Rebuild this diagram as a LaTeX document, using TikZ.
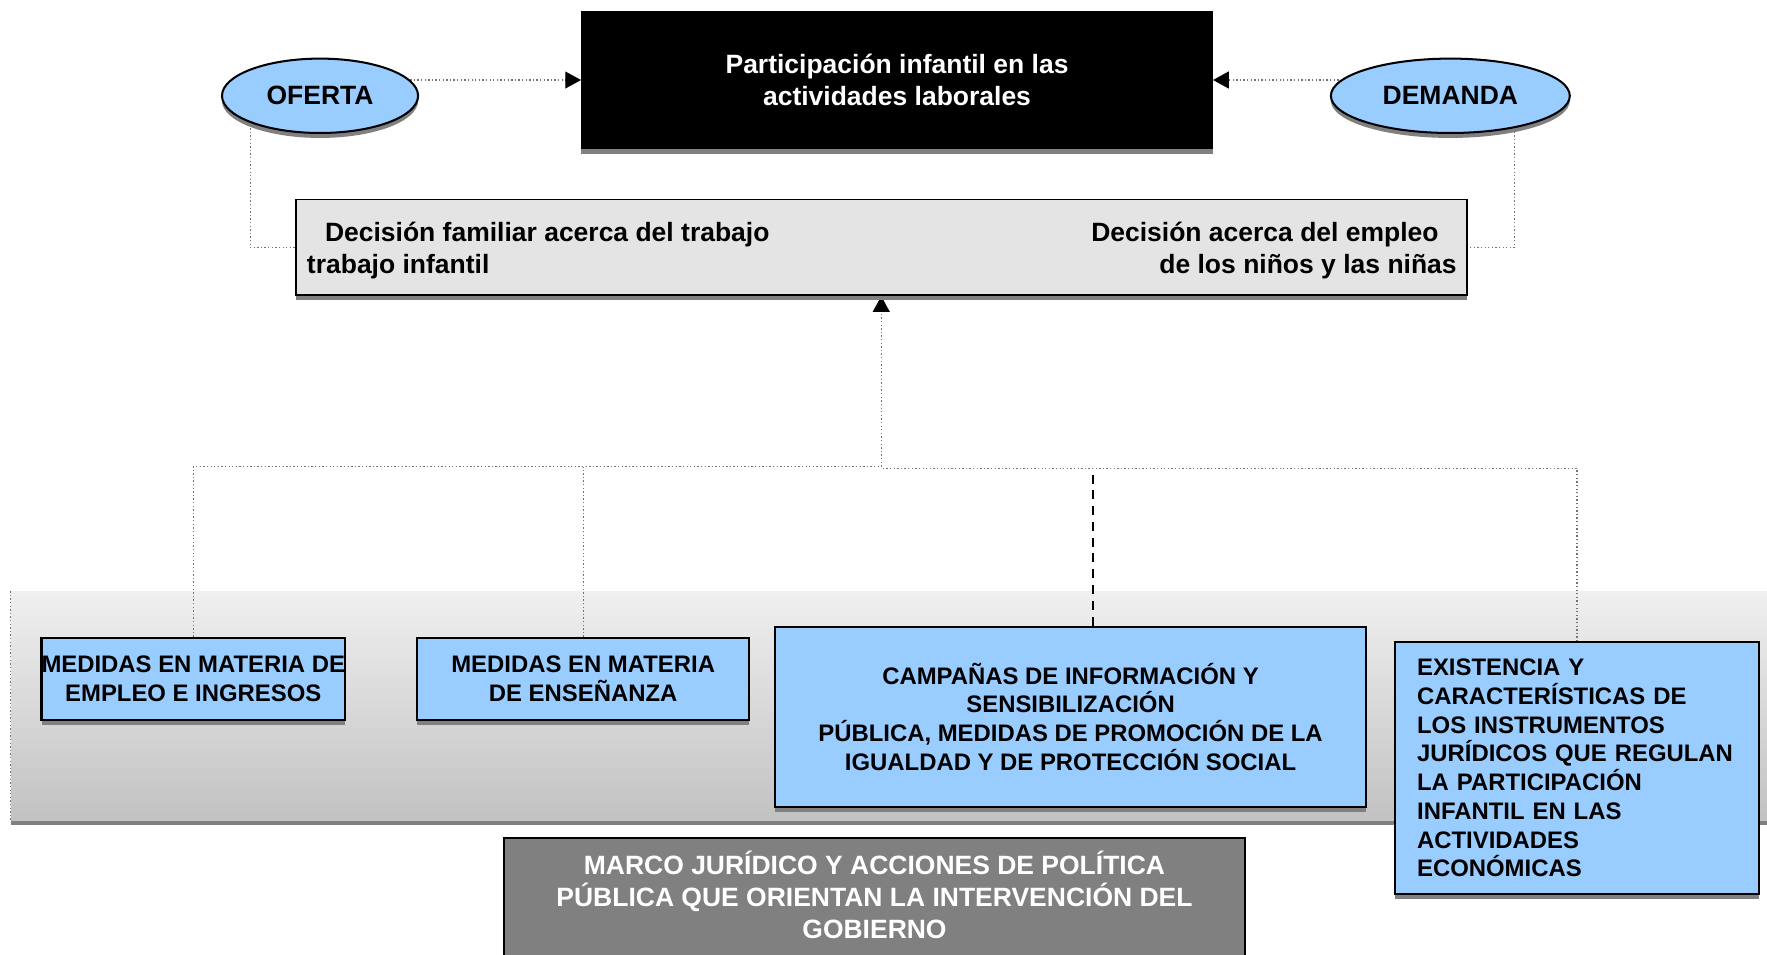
\documentclass[tikz,border=0pt]{standalone}
\usepackage{fontspec}
\setmainfont{Liberation Sans}
\usetikzlibrary{arrows.meta,shapes.geometric,shadows}
\definecolor{ltblue}{HTML}{99CCFF}
\definecolor{decgray}{HTML}{E4E4E4}
\definecolor{marcogray}{HTML}{808080}
\pgfdeclarelayer{bg}
\pgfdeclarelayer{links}
\pgfsetlayers{bg,links,main}

\begin{document}
\begin{tikzpicture}[x=0.5pt, y=-0.5pt,
    bigtxt/.style={font=\fontsize{11.75}{14.25}\selectfont\bfseries},
    smalltxt/.style={font=\fontsize{10.6}{12.75}\selectfont\bfseries},
    boxshadow/.style={general shadow={fill=black!50, shadow yshift=-2.2pt}},
    ovalbox/.style={ellipse, draw=black, line width=0.9pt, fill=ltblue, inner sep=0, boxshadow, bigtxt},
    bluebox/.style={rectangle, draw=black, line width=0.9pt, fill=ltblue, inner sep=0, boxshadow, smalltxt, align=center},
    link/.style={draw=black!55, densely dotted, line width=0.6pt},
    arrowtip/.style={-{Triangle[length=7pt, width=7.5pt, color=black]}},
    dashline/.style={draw=black, line width=0.7pt, dash pattern=on 4pt off 3pt}]
    \useasboundingbox (0,0) rectangle (1568,847);

    \begin{pgfonlayer}{bg}
        \fill[white] (0,0) rectangle (1568,847);
        \node[inner sep=0, minimum width=779pt, minimum height=101.5pt, top color=black!6, bottom color=black!24, boxshadow] (panel) at (789,626.5) {};
    \end{pgfonlayer}

    \node[draw=black, fill=black, boxshadow, minimum width=280pt, minimum height=61pt, inner sep=0, bigtxt, text=white, align=center] (top) at (796,71) {Participación infantil en las\\actividades laborales};
    \node[ovalbox, minimum width=87pt, minimum height=33pt] (oferta) at (284,85) {OFERTA};
    \node[ovalbox, minimum width=106pt, minimum height=33pt] (demanda) at (1287,85) {DEMANDA};

    \node[draw=black, line width=0.8pt, fill=decgray, boxshadow, minimum width=519.5pt, minimum height=42.5pt, inner sep=0] (dec) at (782.5,219.5) {};
    \node[bigtxt, align=left, anchor=west, inner sep=0] (decfam) at (272,222.5) {\hspace*{8pt}Decisión familiar acerca del trabajo\\trabajo infantil};
    \node[bigtxt, align=right, anchor=east, inner sep=0] (decemp) at (1293,222.5) {Decisión acerca del empleo\hspace*{8pt}\\de los niños y las niñas};

    \node[bluebox, minimum width=134.5pt, minimum height=36.5pt] (med1) at (171.5,602.5) {MEDIDAS EN MATERIA DE\\EMPLEO E INGRESOS};
    \node[bluebox, minimum width=147.5pt, minimum height=36.5pt] (med2) at (517.5,602.5) {MEDIDAS EN MATERIA\\DE ENSEÑANZA};
    \node[bluebox, minimum width=262pt, minimum height=80pt] (camp) at (950,636) {CAMPAÑAS DE INFORMACIÓN Y\\SENSIBILIZACIÓN\\PÚBLICA, MEDIDAS DE PROMOCIÓN DE LA\\IGUALDAD Y DE PROTECCIÓN SOCIAL};
    \node[bluebox, minimum width=161.5pt, minimum height=111.5pt, text width=142pt, align=left] (ext) at (1399.5,681.5) {EXISTENCIA Y\\CARACTERÍSTICAS DE\\LOS INSTRUMENTOS\\JURÍDICOS QUE REGULAN\\LA PARTICIPACIÓN\\INFANTIL EN LAS\\ACTIVIDADES\\ECONÓMICAS};

    \node[draw=black, line width=0.8pt, fill=marcogray, text=white, bigtxt, align=center, minimum width=329pt, inner xsep=0, inner ysep=5.5pt, text depth=40pt, anchor=north] (marco) at (776,743) {MARCO JURÍDICO Y ACCIONES DE POLÍTICA\\PÚBLICA QUE ORIENTAN LA INTERVENCIÓN DEL\\GOBIERNO};

    \begin{pgfonlayer}{links}
        \draw[link] (panel.north west) -- (panel.south west);
        \draw[link, arrowtip] (oferta.center |- top.west) -- (top.west);
        \draw[link, arrowtip] (demanda.center |- top.east) -- (top.east);
        \draw[link] ([xshift=-31pt]oferta.center) |- (dec.west);
        \draw[link] ([xshift=28.5pt]demanda.center) |- (dec.east);

        \coordinate (junc) at (782,414);
        \coordinate (campend) at (970,420);
        \draw[link, arrowtip] (junc) -- (junc |- dec.south);
        \draw[link] (med1.north) |- (junc);
        \draw[link] (med2.north) -- (med2.north |- junc);
        \draw[link] (ext.north) |- ([yshift=-1pt]junc);
        \draw[dashline] (camp.north -| campend) -- (campend);
    \end{pgfonlayer}
\end{tikzpicture}
\end{document}
